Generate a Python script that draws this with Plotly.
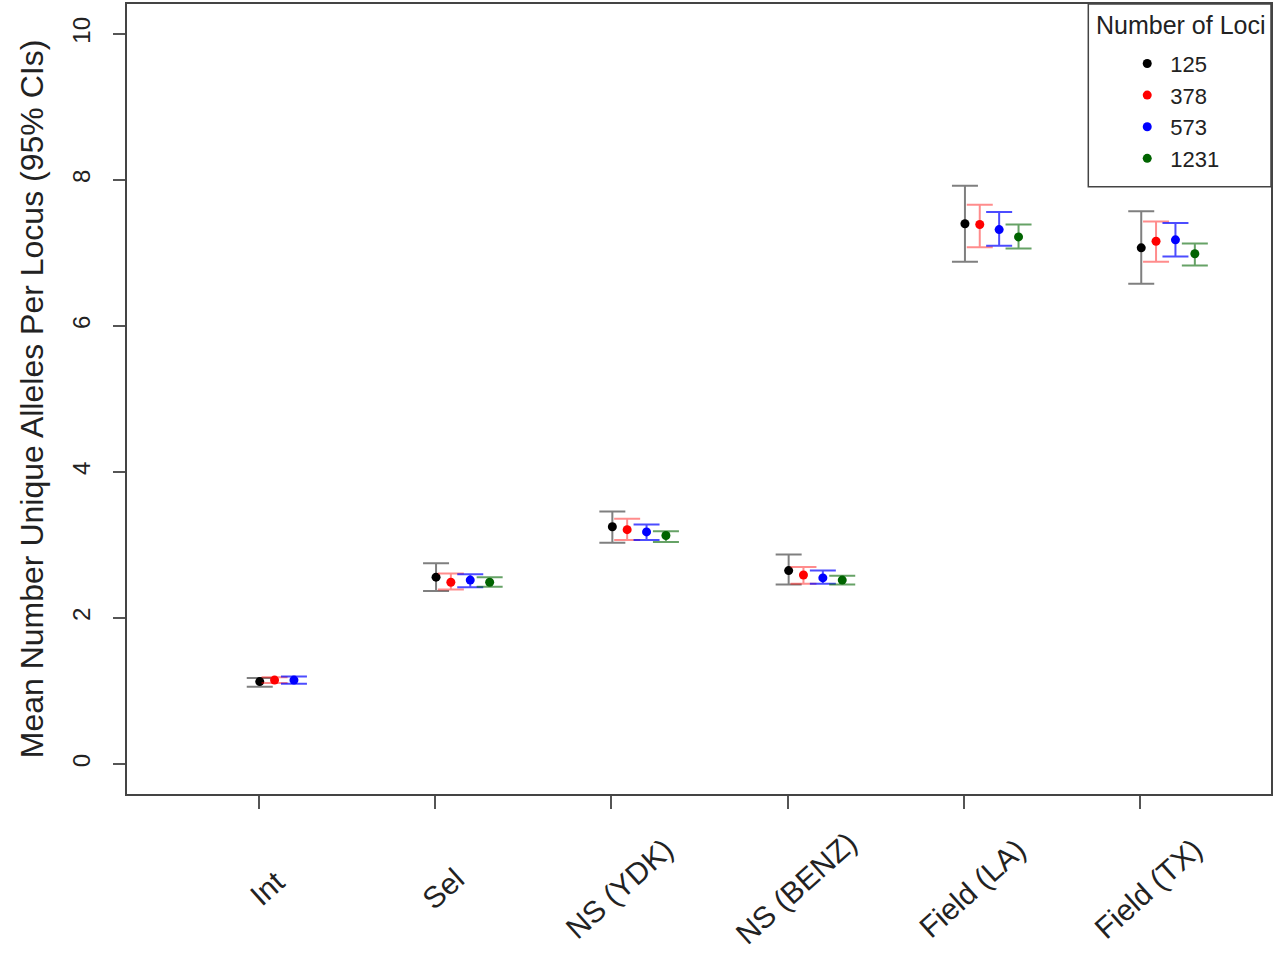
import plotly.graph_objects as go

categories = ["Int", "Sel", "NS (YDK)", "NS (BENZ)", "Field (LA)", "Field (TX)"]
loci_labels = ["125", "378", "573", "1231"]

mean_125 = [1.13, 2.56, 3.25, 2.65, 7.40, 7.07]
low_125 = [1.06, 2.37, 3.03, 2.46, 6.88, 6.58]
high_125 = [1.18, 2.75, 3.46, 2.87, 7.92, 7.57]

mean_378 = [1.15, 2.49, 3.21, 2.59, 7.39, 7.16]
low_378 = [1.11, 2.39, 3.07, 2.47, 7.08, 6.88]
high_378 = [1.19, 2.61, 3.36, 2.70, 7.66, 7.43]

mean_573 = [1.15, 2.52, 3.18, 2.55, 7.32, 7.18]
low_573 = [1.10, 2.42, 3.07, 2.47, 7.10, 6.95]
high_573 = [1.20, 2.60, 3.28, 2.65, 7.56, 7.41]

mean_1231 = [None, 2.49, 3.13, 2.52, 7.22, 6.99]
low_1231 = [None, 2.43, 3.04, 2.46, 7.06, 6.83]
high_1231 = [None, 2.56, 3.19, 2.58, 7.39, 7.13]

y_ticks = [0, 2, 4, 6, 8, 10]

FONT = "Liberation Sans, Arial, sans-serif"

series = [
    (loci_labels[0], mean_125, low_125, high_125, "black", "rgba(0,0,0,0.5)", 0.006),
    (loci_labels[1], mean_378, low_378, high_378, "red", "rgba(255,0,0,0.45)", 0.09),
    (loci_labels[2], mean_573, low_573, high_573, "blue", "rgba(0,0,255,0.7)", 0.20),
    (loci_labels[3], mean_1231, low_1231, high_1231, "darkgreen", "rgba(0,100,0,0.6)", 0.31),
]

fig = go.Figure()
for name, m, lo, hi, col, ecol, off in series:
    xs, ys, ep, em = [], [], [], []
    for i, (mv, lv, hv) in enumerate(zip(m, lo, hi)):
        if mv is None:
            continue
        xs.append(i + off)
        ys.append(mv)
        ep.append(hv - mv)
        em.append(mv - lv)
    fig.add_trace(go.Scatter(
        x=xs, y=ys, mode="markers", name=name,
        marker=dict(color=col, size=9, symbol="circle"),
        error_y=dict(type="data", symmetric=False, array=ep, arrayminus=em,
                     color=ecol, thickness=2, width=13),
    ))

# rotated category labels below the axis
for i, c in enumerate(categories):
    fig.add_annotation(x=i, y=0, xref="x", yref="paper", text=c, textangle=-42,
                       showarrow=False, xanchor="center", yanchor="middle",
                       xshift=8, yshift=-94,
                       font=dict(family=FONT, size=30, color="#222"))

# legend frame and title
fig.add_shape(type="rect", xref="paper", yref="paper",
              x0=0.8403, x1=1.0, y0=0.7686, y1=1.0,
              line=dict(color="#444", width=1.5), fillcolor="rgba(0,0,0,0)", layer="above")
fig.add_annotation(x=0.9211, y=0.9735, xref="paper", yref="paper", text="Number of Loci",
                   showarrow=False, xanchor="center", yanchor="middle",
                   font=dict(family=FONT, size=25, color="#222"))

fig.update_layout(
    width=1275, height=953,
    margin=dict(l=127, r=2, t=3, b=159),
    paper_bgcolor="white", plot_bgcolor="white",
    font=dict(family=FONT, color="#222"),
    showlegend=True,
    legend=dict(
        font=dict(size=22),
        x=0.8717, y=0.951, xanchor="left", yanchor="top",
        borderwidth=0, bgcolor="rgba(0,0,0,0)",
        tracegroupgap=0, itemwidth=36,
    ),
    xaxis=dict(
        range=[-0.747, 5.742], tickmode="array", tickvals=list(range(len(categories))),
        ticktext=categories, showticklabels=False,
        ticks="outside", ticklen=13, tickcolor="#555", tickwidth=1.5,
        showgrid=False, zeroline=False, showline=True, linecolor="#444",
        linewidth=1.5, mirror=True,
    ),
    yaxis=dict(
        range=[-0.41, 10.41], tickmode="array", tickvals=y_ticks,
        ticktext=[str(v) for v in y_ticks], tickangle=-90,
        tickfont=dict(size=24), ticks="outside", ticklen=12, tickcolor="#555",
        tickwidth=1.5, ticklabelstandoff=14,
        showgrid=False, zeroline=False, showline=True, linecolor="#444",
        linewidth=1.5, mirror=True,
        title=dict(text="Mean Number Unique Alleles Per Locus (95% CIs)",
                   font=dict(size=32), standoff=14),
    ),
)

fig.write_html("out.html", config={"displayModeBar": False},
               post_script="document.body.style.margin='0';")
